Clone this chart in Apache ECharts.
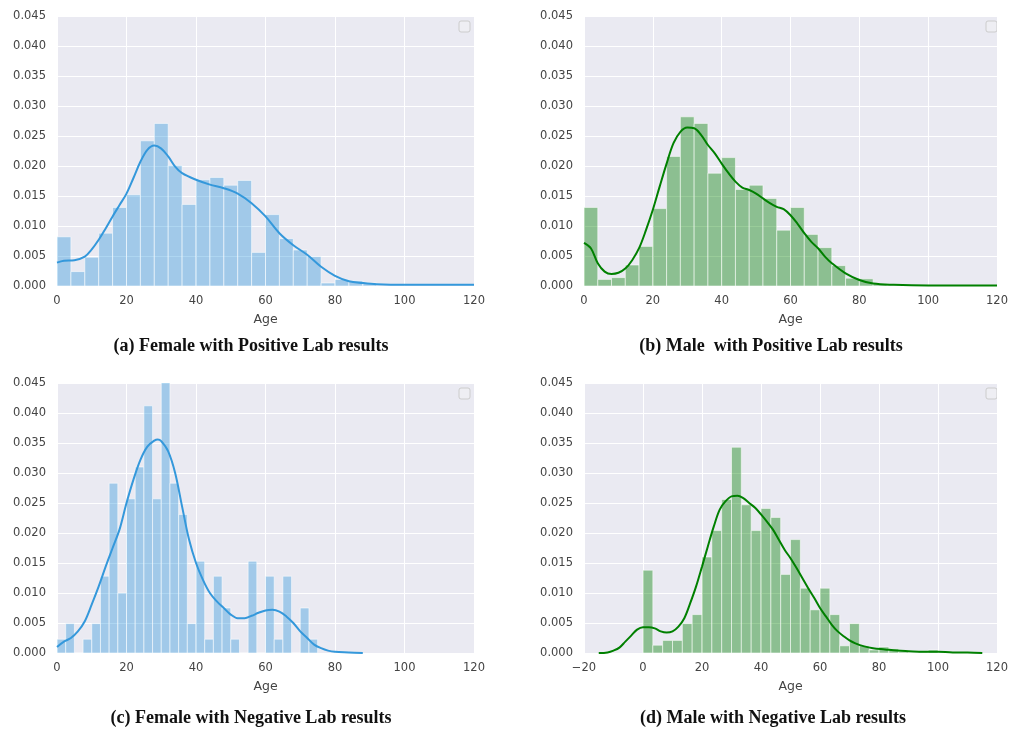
<!DOCTYPE html>
<html>
<head>
<meta charset="utf-8">
<title>Age distribution by lab result</title>
<script src="https://cdn.jsdelivr.net/npm/echarts@6/dist/echarts.min.js"></script>
<style>
  html, body { margin: 0; padding: 0; background: #fff; }
  #chart { width: 1011px; height: 729px; }
</style>
</head>
<body>
<div id="chart"></div>
<script>
// ---- data ----
var xTicks = [0, 20, 40, 60, 80, 100, 120];
var xTicksD = [-20, 0, 20, 40, 60, 80, 100, 120];
var yTicks = [0, 0.005, 0.01, 0.015, 0.02, 0.025, 0.03, 0.035, 0.04, 0.045];

// (a) female, positive : bins of 4 years from 0
var binWidthA = 4;
var histA = [0.0082, 0.0024, 0.0048, 0.0088, 0.0131, 0.0152, 0.0242, 0.0271, 0.0201, 0.0136,
  0.0177, 0.0181, 0.0168, 0.0176, 0.0056, 0.0119, 0.0079, 0.0060, 0.0049, 0.0005,
  0.0011, 0.0009, 0.0005];
var kdeAgeA = [0, 2, 5, 8, 10, 12, 14, 16, 18, 20, 22, 24, 26, 28, 30, 32, 34, 36, 40, 44,
  48, 52, 56, 60, 64, 68, 72, 76, 80, 84, 88, 92, 100, 110, 120];
var kdeA = [0.0039, 0.0042, 0.0043, 0.0049, 0.0061, 0.0077, 0.0096, 0.0116, 0.0135, 0.0154,
  0.0180, 0.0207, 0.0227, 0.0234, 0.0229, 0.0216, 0.0199, 0.0188, 0.0177, 0.0169,
  0.0163, 0.0154, 0.0138, 0.0116, 0.0088, 0.0068, 0.0052, 0.0032, 0.0017, 0.0008,
  0.0005, 0.0003, 0.0002, 0.0002, 0.0002];

// (b) male, positive : bins of 4 years from 0
var binWidthB = 4;
var histB = [0.0131, 0.0011, 0.0014, 0.0035, 0.0066, 0.0129, 0.0216, 0.0282, 0.0271, 0.0188,
  0.0214, 0.0161, 0.0168, 0.0146, 0.0093, 0.0131, 0.0086, 0.0064, 0.0034, 0.0013,
  0.0012, 0.0004];
var kdeAgeB = [0, 2, 4, 6, 8, 10, 12, 14, 16, 18, 20, 22, 24, 26, 28, 30, 32, 34, 36, 38,
  40, 42, 44, 46, 48, 50, 52, 54, 56, 58, 60, 62, 64, 66, 68, 70, 72, 76, 80, 84,
  90, 100, 120];
var kdeB = [0.0072, 0.0063, 0.0038, 0.0024, 0.0020, 0.0022, 0.0029, 0.0043, 0.0063, 0.0093,
  0.0127, 0.0166, 0.0204, 0.0238, 0.0257, 0.0264, 0.0263, 0.0252, 0.0235, 0.0221,
  0.0204, 0.0188, 0.0174, 0.0164, 0.0160, 0.0154, 0.0146, 0.0138, 0.0132, 0.0128,
  0.0118, 0.0104, 0.0088, 0.0074, 0.0063, 0.0049, 0.0038, 0.0021, 0.0010, 0.0004,
  0.0002, 0.0001, 0.0001];

// (c) female, negative : bins of 2.5 years from 0
var binWidthC = 2.5;
var histC = [0.0023, 0.0049, 0, 0.0023, 0.0049, 0.0128, 0.0283, 0.0100, 0.0257, 0.0310,
  0.0412, 0.0257, 0.0463, 0.0283, 0.0231, 0.0049, 0.0153, 0.0023, 0.0128, 0.0075,
  0.0023, 0, 0.0153, 0, 0.0128, 0.0023, 0.0128, 0, 0.0075, 0.0023];
var kdeAgeC = [0, 2, 4, 6, 8, 10, 12, 14, 16, 18, 20, 22, 24, 26, 28, 29, 30, 32, 34, 36,
  38, 40, 42, 44, 46, 48, 50, 52, 54, 56, 58, 60, 62, 64, 66, 68, 70, 72, 74, 76,
  78, 80, 84, 88];
var kdeC = [0.0010, 0.0019, 0.0025, 0.0036, 0.0053, 0.0081, 0.0111, 0.0144, 0.0175, 0.0206,
  0.0250, 0.0289, 0.0322, 0.0344, 0.0354, 0.0356, 0.0353, 0.0336, 0.0300, 0.0244,
  0.0189, 0.0150, 0.0122, 0.0100, 0.0086, 0.0075, 0.0064, 0.0058, 0.0058, 0.0062,
  0.0067, 0.0071, 0.0072, 0.0069, 0.0061, 0.0050, 0.0036, 0.0025, 0.0014, 0.0008,
  0.0004, 0.0002, 0.0001, 0];

// (d) male, negative : 30 bins over 0..100
var binWidthD = 100 / 30;
var histD = [0.0138, 0.0013, 0.0021, 0.0021, 0.0049, 0.0064, 0.0160, 0.0204, 0.0256, 0.0343,
  0.0247, 0.0204, 0.0241, 0.0226, 0.0131, 0.0189, 0.0108, 0.0072, 0.0108, 0.0064,
  0.0012, 0.0049, 0.0012, 0.0005, 0.0010, 0.0007, 0.0002, 0, 0.0002, 0.0005];
var kdeAgeD = [-15, -12, -10, -8, -6, -4, -2, 0, 2, 4, 6, 8, 10, 12, 14, 16, 18, 20, 22, 24,
  26, 28, 30, 32, 34, 36, 38, 40, 42, 44, 46, 48, 50, 52, 54, 56, 58, 60, 62, 64,
  66, 68, 70, 72, 75, 78, 82, 86, 90, 95, 100, 105, 110, 115];
var kdeD = [0, 0.0001, 0.0004, 0.0009, 0.0019, 0.0029, 0.0039, 0.0043, 0.0043, 0.0041,
  0.0036, 0.0034, 0.0036, 0.0044, 0.0058, 0.0083, 0.0111, 0.0144, 0.0178, 0.0211,
  0.0239, 0.0253, 0.0261, 0.0262, 0.0258, 0.0250, 0.0242, 0.0231, 0.0219, 0.0206,
  0.0189, 0.0172, 0.0158, 0.0142, 0.0125, 0.0108, 0.0092, 0.0075, 0.0061, 0.0047,
  0.0036, 0.0028, 0.0021, 0.0016, 0.0011, 0.0008, 0.0006, 0.0004, 0.0003, 0.0002,
  0.0002, 0.0001, 0.0001, 0];

var captions = [
  "(a) Female with Positive Lab results",
  "(b) Male  with Positive Lab results",
  "(c) Female with Negative Lab results",
  "(d) Male with Negative Lab results"
];

// ---- layout ----
var BLUE = "#3498db";
var GREEN = "#008000";
var panels = [
  { left: 57, top: 16, hist: histA, bw: binWidthA, ages: kdeAgeA, kde: kdeA, color: BLUE, ticks: xTicks },
  { left: 584, top: 16, hist: histB, bw: binWidthB, ages: kdeAgeB, kde: kdeB, color: GREEN, ticks: xTicks },
  { left: 57, top: 383, hist: histC, bw: binWidthC, ages: kdeAgeC, kde: kdeC, color: BLUE, ticks: xTicks },
  { left: 584, top: 383, hist: histD, bw: binWidthD, ages: kdeAgeD, kde: kdeD, color: GREEN, ticks: xTicksD }
];

function fade(hex) {
  var r = parseInt(hex.substr(1, 2), 16), g = parseInt(hex.substr(3, 2), 16), b = parseInt(hex.substr(5, 2), 16);
  return "rgba(" + r + "," + g + "," + b + ",0.4)";
}

var grids = [], xAxes = [], yAxes = [], series = [], graphics = [];

panels.forEach(function (p, i) {
  grids.push({
    left: p.left, top: p.top, width: 417, height: 270,
    show: true, backgroundColor: "#EAEAF2", borderWidth: 0
  });
  xAxes.push({
    type: "value", gridIndex: i,
    min: p.ticks[0], max: p.ticks[p.ticks.length - 1], interval: 20,
    axisLine: { show: false }, axisTick: { show: false },
    splitLine: { lineStyle: { color: "#ffffff", width: 1 } },
    axisLabel: {
      color: "#444", fontSize: 11.5, margin: 9, fontFamily: "DejaVu Sans",
      formatter: function (v) { return String(v).replace("-", "\u2212"); }
    },
    name: "Age", nameLocation: "middle", nameGap: 27,
    nameTextStyle: { color: "#444", fontSize: 12.5, fontFamily: "DejaVu Sans" }
  });
  yAxes.push({
    type: "value", gridIndex: i,
    min: yTicks[0], max: yTicks[yTicks.length - 1], interval: 0.005,
    axisLine: { show: false }, axisTick: { show: false },
    splitLine: { lineStyle: { color: "#ffffff", width: 1 } },
    axisLabel: {
      color: "#444", fontSize: 11.5, margin: 11, fontFamily: "DejaVu Sans",
      formatter: function (v) { return v.toFixed(3); }
    }
  });

  // histogram bins [start, end, density]
  var bins = p.hist.map(function (h, k) {
    return [k * p.bw, (k + 1) * p.bw, h];
  });
  var fill = fade(p.color);
  series.push({
    type: "custom", xAxisIndex: i, yAxisIndex: i, clip: true,
    data: bins, encode: { x: [0, 1], y: 2 },
    renderItem: function (params, api) {
      var a = api.coord([api.value(0), api.value(2)]);
      var b = api.coord([api.value(1), 0]);
      return {
        type: "rect",
        shape: { x: a[0], y: a[1], width: b[0] - a[0], height: b[1] - a[1] },
        style: { fill: fill, stroke: "rgba(255,255,255,0.55)", lineWidth: 1 }
      };
    },
    z: 2
  });
  series.push({
    type: "line", xAxisIndex: i, yAxisIndex: i,
    data: p.ages.map(function (a, k) { return [a, p.kde[k]]; }),
    smooth: 0.35, showSymbol: false,
    lineStyle: { color: p.color, width: 2 },
    z: 3
  });

  // empty legend box in the corner
  graphics.push({
    type: "rect",
    shape: { x: p.left + 402, y: p.top + 5, width: 11, height: 11, r: 2 },
    style: { fill: "#EEEEF3", stroke: "#cccccc", lineWidth: 1 }
  });
});

// captions under each panel
var capPos = [[251, 346], [771, 346], [251, 718], [773, 718]];
captions.forEach(function (c, i) {
  graphics.push({
    type: "text", x: capPos[i][0], y: capPos[i][1],
    style: {
      text: c, fill: "#111", font: "bold 18px 'Liberation Serif'",
      textAlign: "center", textVerticalAlign: "middle"
    }
  });
});

var chart = echarts.init(document.getElementById("chart"));
chart.setOption({
  animation: false,
  grid: grids,
  xAxis: xAxes,
  yAxis: yAxes,
  series: series,
  graphic: graphics
});
</script>
</body>
</html>
